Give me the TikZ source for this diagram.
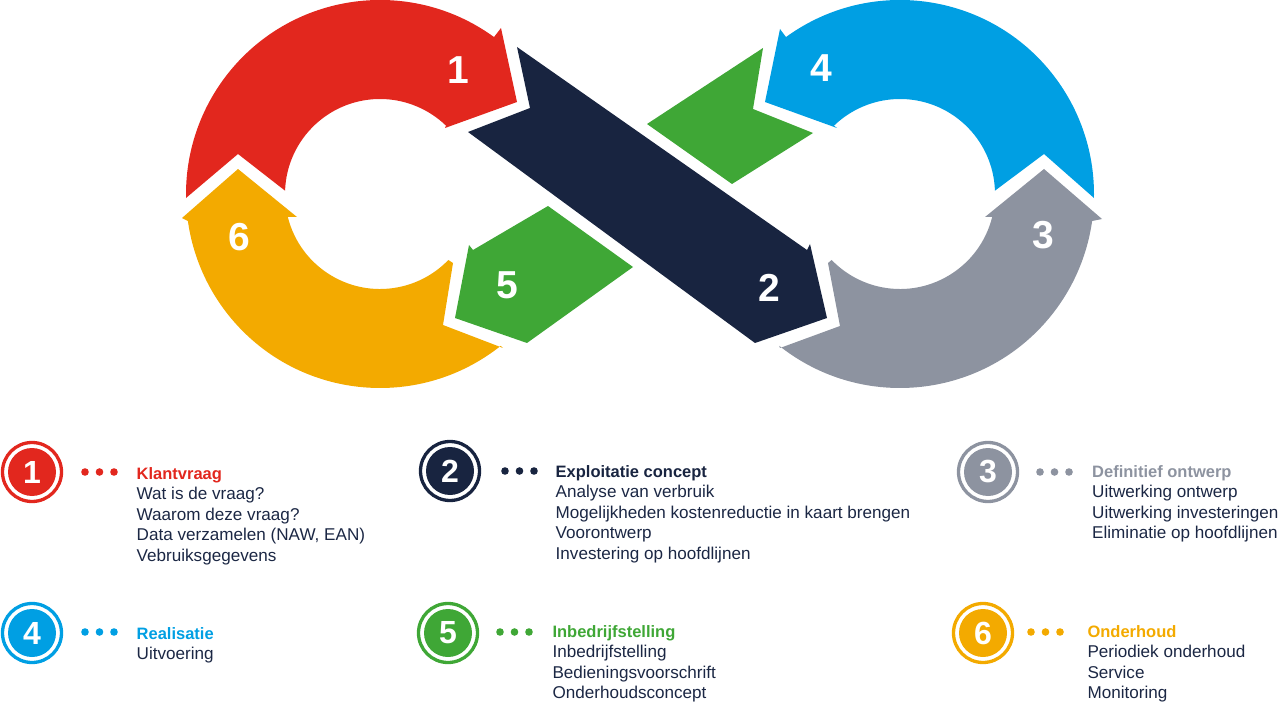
\documentclass[tikz,border=0pt]{standalone}
\usepackage{fontspec}
\setmainfont{Liberation Sans}
\definecolor{klant}{HTML}{E2271E}
\definecolor{exploit}{HTML}{182440}
\definecolor{ontwerp}{HTML}{8D93A0}
\definecolor{realis}{HTML}{009FE3}
\definecolor{inbedrijf}{HTML}{3FA736}
\definecolor{onderhoud}{HTML}{F3AA00}
\definecolor{tekst}{HTML}{1B2744}
\begin{document}
\begin{tikzpicture}[x=1pt, y=-1pt,
	lusnr/.style={text=white, font=\fontsize{39}{39}\selectfont\bfseries},
	stapnr/.style={circle, fill=#1, minimum size=48pt, inner sep=0pt, text=white, font=\fontsize{32}{32}\selectfont\bfseries},
	titel/.style={anchor=base west, inner sep=0pt, text=#1, font=\fontsize{16.5}{20}\selectfont\bfseries},
	regel/.style={anchor=base west, inner sep=0pt, text=tekst, font=\fontsize{17.1}{20}\selectfont}]
		\useasboundingbox (0,0) rectangle (1280,703);
		\fill[inbedrijf] (647,124) -- (763,48) -- (753,109) -- (813,133) -- (732,184) -- cycle;
		\fill[inbedrijf] (548,206) -- (633,267) -- (527,343) -- (455,318) -- (469,245) -- (473,250) -- cycle;
		\fill[exploit] (517,47) -- (807,250) -- (810,244) -- (827,318) -- (755,343) -- (468,132) -- (530,108) -- cycle;
		\fill[klant] (186,198) -- (238,154) -- ([shift={(380,194)}]182:95) arc[start angle=182, end angle=314, radius=95] -- (445,128) -- (517,102) -- (501,28) -- ([shift={(380,194)}]306:194) arc[start angle=306, end angle=178.8, radius=194] -- cycle;
		\fill[onderhoud] (453,263) -- (443,325) -- (503,348) -- ([shift={(380,194)}]51.5:194) arc[start angle=51.5, end angle=172, radius=194] -- (182,218) -- (238,169) -- (297,217) -- ([shift={(380,194)}]166:95) arc[start angle=166, end angle=44, radius=95] -- cycle;
		\fill[realis] (1094,198) -- (1044,154) -- ([shift={(900,194)}]-2:95) arc[start angle=-2, end angle=-134, radius=95] -- (837,128) -- (765,102) -- (780,29) -- ([shift={(900,194)}]-126:194) arc[start angle=-126, end angle=1.2, radius=194] -- cycle;
		\fill[ontwerp] (828,263) -- (840,326) -- (780,348) -- ([shift={(900,194)}]128.5:194) arc[start angle=128.5, end angle=8, radius=194] -- (1102,219) -- (1044,169) -- (985,217) -- ([shift={(900,194)}]14:95) arc[start angle=14, end angle=136, radius=95] -- cycle;
		\node[lusnr] (n1) at (458,70) {1};
		\node[lusnr] (n2) at (769,288) {2};
		\node[lusnr] (n3) at (1043,235) {3};
		\node[lusnr] (n4) at (821,68) {4};
		\node[lusnr] (n5) at (507,285) {5};
		\node[lusnr] (n6) at (239,237) {6};
		\node[stapnr=klant] (s1) at (32,472) {1};
		\draw[klant, line width=3.3pt] (s1.center) circle (29.5);
		\foreach \dx in {0,14.5,29} \fill[klant] (85+\dx,472) circle (3.8);
		\node[titel=klant] (k1) at (136.5,479) {Klantvraag};
		\foreach \t [count=\i] in {Wat is de vraag?, Waarom deze vraag?, {Data verzamelen (NAW, EAN)}, Vebruiksgegevens}
			\node[regel] (k1-\i) at (136.5,479+20.6*\i) {\t};
		\node[stapnr=exploit] (s2) at (450,471) {2};
		\draw[exploit, line width=3.3pt] (s2.center) circle (29.5);
		\foreach \dx in {0,14.5,29} \fill[exploit] (505+\dx,471) circle (3.8);
		\node[titel=exploit] (k2) at (555.5,477) {Exploitatie concept};
		\foreach \t [count=\i] in {Analyse van verbruik, Mogelijkheden kostenreductie in kaart brengen, Voorontwerp, Investering op hoofdlijnen}
			\node[regel] (k2-\i) at (555.5,477+20.6*\i) {\t};
		\node[stapnr=ontwerp] (s3) at (988,472) {3};
		\draw[ontwerp, line width=3.3pt] (s3.center) circle (29.5);
		\foreach \dx in {0,14.5,29} \fill[ontwerp] (1040+\dx,472) circle (3.8);
		\node[titel=ontwerp] (k3) at (1092,477) {Definitief ontwerp};
		\foreach \t [count=\i] in {Uitwerking ontwerp, Uitwerking investeringen, Eliminatie op hoofdlijnen}
			\node[regel] (k3-\i) at (1092,477+20.6*\i) {\t};
		\node[stapnr=realis] (s4) at (32,633) {4};
		\draw[realis, line width=3.3pt] (s4.center) circle (29.5);
		\foreach \dx in {0,14.5,29} \fill[realis] (85+\dx,632) circle (3.8);
		\node[titel=realis] (k4) at (136.5,639) {Realisatie};
		\node[regel] (k4-1) at (136.5,659.6) {Uitvoering};
		\node[stapnr=inbedrijf] (s5) at (448,633) {5};
		\draw[inbedrijf, line width=3.3pt] (s5.center) circle (29.5);
		\foreach \dx in {0,14.5,29} \fill[inbedrijf] (500+\dx,632) circle (3.8);
		\node[titel=inbedrijf] (k5) at (552.3,637) {Inbedrijfstelling};
		\foreach \t [count=\i] in {Inbedrijfstelling, Bedieningsvoorschrift, Onderhoudsconcept}
			\node[regel] (k5-\i) at (552.3,637+20.6*\i) {\t};
		\node[stapnr=onderhoud] (s6) at (983,633) {6};
		\draw[onderhoud, line width=3.3pt] (s6.center) circle (29.5);
		\foreach \dx in {0,14.5,29} \fill[onderhoud] (1031+\dx,632) circle (3.8);
		\node[titel=onderhoud] (k6) at (1087.3,637) {Onderhoud};
		\foreach \t [count=\i] in {Periodiek onderhoud, Service, Monitoring}
			\node[regel] (k6-\i) at (1087.3,637+20.6*\i) {\t};
	\end{tikzpicture}
\end{document}
